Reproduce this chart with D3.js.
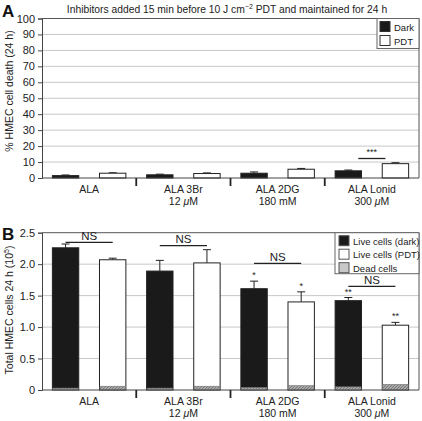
<!DOCTYPE html>
<html><head><meta charset="utf-8">
<script src="https://cdn.jsdelivr.net/npm/d3@7"></script>
<style>body{margin:0;background:#fff}svg{display:block;font-family:"Liberation Sans",Arial,sans-serif}</style>
</head><body><svg id="c" width="422" height="421"></svg>
<script>
const categories = ["ALA", "ALA 3Br", "ALA 2DG", "ALA Lonid"];
const subLabels = ["", "12 μM", "180 mM", "300 μM"];
const series = ["dark", "pdt"];
// Panel A: % cell death
const deathDark = [1.5, 2.0, 3.0, 4.5];
const deathDarkErr = [0.4, 0.4, 0.8, 0.5];
const deathPdt = [3.0, 2.8, 5.5, 9.0];
const deathPdtErr = [0.3, 0.4, 0.5, 0.6];
const yTicksA = [0,10,20,30,40,50,60,70,80,90,100];
// Panel B: total cells (10^5)
const liveDark = [2.26, 1.89, 1.61, 1.42];
const liveDarkErr = [0.06, 0.17, 0.12, 0.05];
const livePdt = [2.07, 2.02, 1.40, 1.03];
const livePdtErr = [0.025, 0.21, 0.16, 0.045];
const deadDark = [0.03, 0.03, 0.04, 0.05];
const deadPdt = [0.06, 0.06, 0.07, 0.09];
const yTicksB = [0, 0.5, 1.0, 1.5, 2.0, 2.5];
const starsB = [["", ""], ["", ""], ["*", "*"], ["**", "**"]];

const FS = 10.5;
const svg = d3.select("#c");
const defs = svg.append("defs");
const pat = defs.append("pattern").attr("id","hatch").attr("patternUnits","userSpaceOnUse").attr("width",3).attr("height",3);
pat.append("rect").attr("width",3).attr("height",3).attr("fill","#a8a8a8");
pat.append("path").attr("d","M0,3 L3,0").attr("stroke","#6e6e6e").attr("stroke-width",0.8);

const L = 42, R = 419;
const x = d3.scaleBand().domain(categories).range([L, R]).padding(0);
const xi = d3.scaleBand().domain(series).range([0, x.bandwidth()]).paddingInner(0.44).paddingOuter(0.22);

function panel(yScale, ticks, fmt) {
  const g = svg.append("g");
  const [y0, y1] = yScale.range();
  g.selectAll(".grid").data(ticks.slice(1, -1)).join("line")
    .attr("x1", L).attr("x2", R).attr("y1", d => yScale(d)).attr("y2", d => yScale(d))
    .attr("stroke", "#c8c8c8").attr("stroke-width", 1);
  g.append("path").attr("d", `M${L},${y1}H${R}V${y0}`).attr("fill","none").attr("stroke","#555").attr("stroke-width",1);
  const ax = g.append("g").attr("transform", `translate(${L},0)`)
    .call(d3.axisLeft(yScale).tickValues(ticks).tickFormat(fmt).tickSize(4).tickPadding(3));
  ax.select(".domain").attr("stroke","#444");
  ax.selectAll(".tick line").attr("stroke","#444");
  ax.selectAll("text").attr("font-size", FS + 0.5).attr("fill","#222").attr("font-family","Liberation Sans, Arial, sans-serif");
  return g;
}

function xAxis(g, y0) {
  g.append("line").attr("x1", L).attr("x2", R).attr("y1", y0).attr("y2", y0).attr("stroke","#444");
  g.selectAll(".sep").data(categories.slice(1)).join("line")
    .attr("x1", d => x(d)).attr("x2", d => x(d)).attr("y1", y0).attr("y2", y0 + 8)
    .attr("stroke","#222").attr("stroke-width",1.8);
  g.selectAll(".cl").data(categories).join("text")
    .attr("x", d => x(d) + x.bandwidth()/2).attr("y", y0 + 15)
    .attr("text-anchor","middle").attr("font-size",FS).attr("fill","#222").text(d => d);
  categories.forEach((c, i) => {
    const s = subLabels[i];
    if (!s) return;
    const tx = g.append("text").attr("x", x(c) + x.bandwidth()/2).attr("y", y0 + 27)
      .attr("text-anchor","middle").attr("font-size",FS).attr("fill","#222");
    const parts = s.split("μ");
    tx.append("tspan").text(parts[0]);
    if (parts.length > 1) {
      tx.append("tspan").attr("font-style","italic").text("μ");
      tx.append("tspan").text(parts[1]);
    }
  });
}

function errBar(g, cx, yTop, yErr) {
  g.append("line").attr("x1", cx).attr("x2", cx).attr("y1", yTop).attr("y2", yErr).attr("stroke","#222");
  g.append("line").attr("x1", cx - 4).attr("x2", cx + 4).attr("y1", yErr).attr("y2", yErr).attr("stroke","#222");
}

// ---------- Panel A ----------
const yA = d3.scaleLinear().domain([0, 100]).range([178, 18.5]);
const gA = panel(yA, yTicksA, d3.format("d"));
const dataA = categories.map((c, i) => ({c, dark: deathDark[i], darkE: deathDarkErr[i], pdt: deathPdt[i], pdtE: deathPdtErr[i]}));
dataA.forEach(d => {
  series.forEach(s => {
    const bx = x(d.c) + xi(s);
    const cx = bx + xi.bandwidth()/2;
    errBar(gA, cx, yA(d[s]), yA(d[s] + d[s + "E"]));
    gA.append("rect").attr("x", bx).attr("y", yA(d[s])).attr("width", xi.bandwidth())
      .attr("height", yA(0) - yA(d[s]))
      .attr("fill", s === "dark" ? "#1a1a1a" : "#fff").attr("stroke","#222").attr("stroke-width",1);
  });
});
xAxis(gA, 178);
{
  const c = categories[3];
  const x1 = x(c) + xi("dark") + xi.bandwidth()/2 + 10, x2 = x(c) + xi("pdt") + xi.bandwidth()/2 - 10;
  gA.append("line").attr("x1", x1).attr("x2", x2).attr("y1", 158.5).attr("y2", 158.5).attr("stroke","#222").attr("stroke-width",1.3);
  gA.append("text").attr("x", (x1 + x2)/2).attr("y", 155).attr("text-anchor","middle").attr("font-size",9).attr("fill","#222").text("***");
}
{
  const lg = gA.append("g").attr("transform","translate(377,18.5)");
  lg.append("rect").attr("width", 42).attr("height", 30).attr("fill","#fff").attr("stroke","#666");
  [["Dark","#1a1a1a"],["PDT","#fff"]].forEach((e, i) => {
    lg.append("rect").attr("x", 3).attr("y", 3 + i*14).attr("width", 10).attr("height", 10).attr("fill", e[1]).attr("stroke","#333");
    lg.append("text").attr("x", 17).attr("y", 12 + i*14).attr("font-size", 9.5).attr("fill","#222").text(e[0]);
  });
}
{
  const t = svg.append("text").attr("x", 227).attr("y", 13).attr("text-anchor","middle").attr("font-size",10.3).attr("fill","#222");
  t.append("tspan").text("Inhibitors added 15 min before 10 J cm");
  t.append("tspan").attr("font-size",7).attr("dy",-4).text("−2");
  t.append("tspan").attr("dy",4).text(" PDT and maintained for 24 h");
  svg.append("text").attr("x", 2).attr("y", 17).attr("font-size",17).attr("font-weight","bold").attr("fill","#111").text("A");
  svg.append("text").attr("transform","translate(13,91) rotate(-90)").attr("text-anchor","middle").attr("font-size",FS).attr("fill","#222")
    .text("% HMEC cell death (24 h)");
}

// ---------- Panel B ----------
const yB = d3.scaleLinear().domain([0, 2.5]).range([390, 232.7]);
const gB = panel(yB, yTicksB, d3.format(".1f"));
gB.selectAll(".tick text").filter(d => d === 0).text("0");
const dataB = categories.map((c, i) => ({c, i,
  dark: liveDark[i], darkE: liveDarkErr[i], darkD: deadDark[i],
  pdt: livePdt[i], pdtE: livePdtErr[i], pdtD: deadPdt[i]}));
dataB.forEach(d => {
  series.forEach((s, si) => {
    const bx = x(d.c) + xi(s);
    const cx = bx + xi.bandwidth()/2;
    const ye = yB(d[s] + d[s + "E"]);
    errBar(gB, cx, yB(d[s]), ye);
    gB.append("rect").attr("x", bx).attr("y", yB(d[s])).attr("width", xi.bandwidth())
      .attr("height", yB(0) - yB(d[s]))
      .attr("fill", s === "dark" ? "#1a1a1a" : "#fff").attr("stroke","#222").attr("stroke-width",1);
    gB.append("rect").attr("x", bx + 0.5).attr("y", yB(d[s + "D"])).attr("width", xi.bandwidth() - 1)
      .attr("height", yB(0) - yB(d[s + "D"])).attr("fill","url(#hatch)").attr("stroke","#777").attr("stroke-width",0.6);
    const st = starsB[d.i][si];
    if (st) gB.append("text").attr("x", cx).attr("y", ye - 3).attr("text-anchor","middle").attr("font-size",9).attr("fill","#222").text(st);
  });
});
xAxis(gB, 390);
const nsY = [242.3, 245.7, 263.3, 286.3];
categories.forEach((c, i) => {
  const x1 = x(c) + xi("dark") + xi.bandwidth()/2, x2 = x(c) + xi("pdt") + xi.bandwidth()/2;
  gB.append("line").attr("x1", x1).attr("x2", x2).attr("y1", nsY[i]).attr("y2", nsY[i]).attr("stroke","#222").attr("stroke-width",1.3);
  gB.append("text").attr("x", (x1 + x2)/2).attr("y", nsY[i] - 2.5).attr("text-anchor","middle").attr("font-size",11.5).attr("fill","#222").text("NS");
});
{
  const lg = gB.append("g").attr("transform","translate(335,232.7)");
  lg.append("rect").attr("width", 84).attr("height", 41).attr("fill","#fff").attr("stroke","#666");
  [["Live cells (dark)","#1a1a1a"],["Live cells (PDT)","#fff"],["Dead cells","#c8c8c8"]].forEach((e, i) => {
    lg.append("rect").attr("x", 4).attr("y", 3 + i*13.5).attr("width", 10).attr("height", 10).attr("fill", e[1]).attr("stroke","#555");
    lg.append("text").attr("x", 18).attr("y", 12 + i*13.5).attr("font-size", 9.5).attr("fill","#222").text(e[0]);
  });
}
svg.append("text").attr("x", 2).attr("y", 240).attr("font-size",17).attr("font-weight","bold").attr("fill","#111").text("B");
{
  const t = svg.append("text").attr("transform","translate(13,310) rotate(-90)").attr("text-anchor","middle").attr("font-size",FS).attr("fill","#222");
  t.append("tspan").text("Total HMEC cells 24 h (10");
  t.append("tspan").attr("font-size",7).attr("dy",-4).text("5");
  t.append("tspan").attr("dy",4).text(")");
}
</script></body></html>
